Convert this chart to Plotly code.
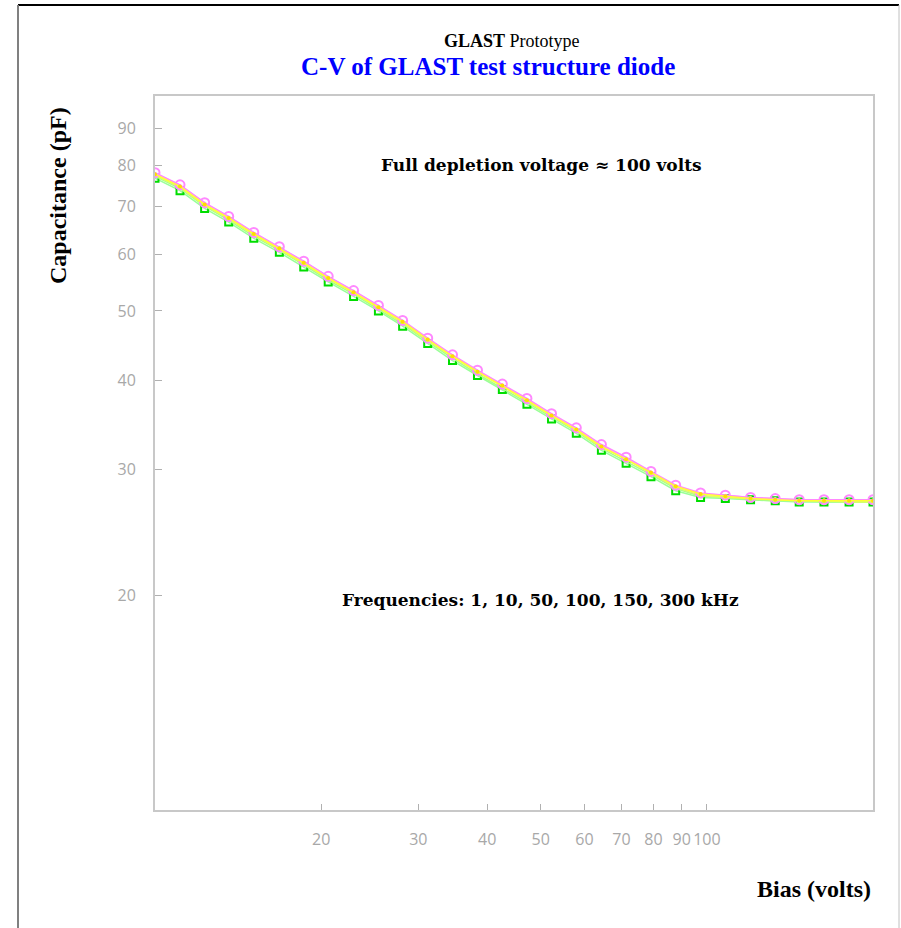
import plotly.graph_objects as go

# Bias voltages (volts)
bias = [10.0, 11.1, 12.3, 13.6, 15.1, 16.8, 18.6, 20.6, 22.9, 25.4,
        28.1, 31.2, 34.6, 38.4, 42.6, 47.2, 52.3, 58.0, 64.4, 71.4,
        79.2, 87.8, 97.4, 108.0, 120.0, 133.0, 147.0, 163.0, 181.0, 200.0]

# Capacitance (pF) for each test frequency
cap_1k = [78.1, 75.1, 70.9, 67.8, 64.4, 61.5, 58.7, 55.9, 53.4, 50.9,
          48.5, 45.8, 43.4, 41.3, 39.5, 37.7, 35.9, 34.3, 32.5, 31.2,
          29.8, 28.5, 27.8, 27.6, 27.4, 27.3, 27.2, 27.2, 27.2, 27.2]
cap_10k = [77.9, 75.0, 70.8, 67.7, 64.3, 61.4, 58.6, 55.8, 53.3, 50.8,
           48.4, 45.7, 43.3, 41.2, 39.4, 37.6, 35.8, 34.2, 32.4, 31.1,
           29.7, 28.4, 27.7, 27.6, 27.4, 27.3, 27.2, 27.2, 27.2, 27.2]
cap_50k = [77.7, 74.7, 70.5, 67.5, 64.1, 61.2, 58.4, 55.6, 53.1, 50.6,
           48.3, 45.6, 43.2, 41.1, 39.3, 37.5, 35.7, 34.1, 32.3, 31.0,
           29.7, 28.4, 27.7, 27.5, 27.3, 27.2, 27.1, 27.1, 27.1, 27.1]
cap_100k = [77.5, 74.5, 70.3, 67.3, 63.9, 61.0, 58.2, 55.5, 53.0, 50.5,
            48.1, 45.4, 43.1, 41.0, 39.2, 37.4, 35.6, 34.0, 32.2, 31.0,
            29.6, 28.3, 27.6, 27.4, 27.3, 27.2, 27.1, 27.1, 27.0, 27.0]
cap_150k = [77.2, 74.2, 70.1, 67.0, 63.6, 60.8, 58.0, 55.2, 52.8, 50.3,
            47.9, 45.3, 42.9, 40.8, 39.0, 37.2, 35.5, 33.9, 32.1, 30.8,
            29.5, 28.2, 27.5, 27.4, 27.2, 27.1, 27.1, 27.0, 27.0, 27.0]
cap_300k = [76.7, 73.7, 69.6, 66.6, 63.2, 60.4, 57.6, 54.9, 52.4, 50.0,
            47.6, 45.0, 42.6, 40.6, 38.8, 37.0, 35.3, 33.7, 31.9, 30.6,
            29.3, 28.0, 27.4, 27.3, 27.2, 27.1, 27.0, 27.0, 27.0, 27.0]

y_ticks = [20, 30, 40, 50, 60, 70, 80, 90]
x_ticks = [20, 30, 40, 50, 60, 70, 80, 90, 100]

fig = go.Figure()

series = [
    (cap_300k, "#99ff99", dict(symbol="square-open", size=7, color="#00dd00", line=dict(width=2))),
    (cap_150k, "#aaff88", dict(symbol="circle", size=3, color="#aaff88")),
    (cap_100k, "#ddff66", dict(symbol="circle", size=3, color="#ddff66")),
    (cap_10k, "#ffaaff", dict(symbol="circle", size=3, color="#ffaaff")),
    (cap_1k, "#ff88ff", dict(symbol="circle-open", size=9, color="#ff88ff", line=dict(width=2))),
    (cap_50k, "#ffff33", dict(symbol="circle", size=4, color="#ffdd00")),
]
names = ["300 kHz", "150 kHz", "100 kHz", "10 kHz", "1 kHz", "50 kHz"]
for (vals, lcol, mk), nm in zip(series, names):
    fig.add_trace(go.Scatter(x=bias, y=vals, mode="lines+markers", name=nm,
                             line=dict(color=lcol, width=1.5), marker=mk,
                             showlegend=False))

tickfont = dict(family="Open Sans, DejaVu Sans, sans-serif", size=16, color="#a8a8a8")
fig.update_xaxes(type="log", range=[1, 2.30103], tickvals=x_ticks,
                 ticktext=[str(v) for v in x_ticks], tickangle=0,
                 ticks="inside", ticklen=6, tickcolor="#b0b0b0", tickwidth=1,
                 showline=True, linecolor="#c8c8c8", linewidth=2, mirror=True,
                 showgrid=False, zeroline=False, tickfont=tickfont,
                 ticklabelstandoff=14)
fig.update_yaxes(type="log", range=[1, 2], tickvals=y_ticks,
                 ticktext=[str(v) for v in y_ticks],
                 ticks="inside", ticklen=7, tickcolor="#b0b0b0", tickwidth=1,
                 showline=True, linecolor="#c8c8c8", linewidth=2, mirror=True,
                 showgrid=False, zeroline=False, tickfont=tickfont,
                 ticklabelstandoff=14)

W, H = 901, 928
L, R, T, B = 155, 873, 96, 810
pw, ph = R - L, B - T

def px(x):
    return (x - L) / pw

def py(y):
    return (B - y) / ph

serif = "Liberation Serif, Times New Roman, serif"
serif2 = "DejaVu Serif, serif"
ann = [
    dict(text="<b>GLAST</b> Prototype", x=px(512), y=py(41), font=dict(family=serif, size=18, color="black")),
    dict(text="<b>C-V of GLAST test structure diode</b>", x=px(488), y=py(67), font=dict(family=serif, size=25, color="#0000ff")),
    dict(text="<b>Full depletion voltage \u2248 100 volts</b>", x=px(541), y=py(165), font=dict(family=serif2, size=17, color="black")),
    dict(text="<b>Frequencies: 1, 10, 50, 100, 150, 300 kHz</b>", x=px(540), y=py(600), font=dict(family=serif2, size=17, color="black")),
    dict(text="<b>Bias (volts)</b>", x=px(873), y=py(889), xanchor="right", font=dict(family=serif, size=24, color="black")),
    dict(text="<b>Capacitance (pF)</b>", x=px(58), y=py(196), textangle=-90, font=dict(family=serif, size=24, color="black")),
]
annotations = []
for a in ann:
    d = dict(xref="paper", yref="paper", showarrow=False, xanchor=a.get("xanchor", "center"), yanchor="middle")
    d.update(a)
    annotations.append(d)

shapes = [
    # longer tick at 100
    dict(type="line", xref="x", yref="paper", x0=2, x1=2, y0=0, y1=14 / ph, line=dict(color="#b0b0b0", width=1)),
    # outer frame
    dict(type="line", xref="paper", yref="paper", x0=px(18), x1=px(899), y0=py(5), y1=py(5), line=dict(color="black", width=2)),
    dict(type="line", xref="paper", yref="paper", x0=px(18), x1=px(18), y0=py(5), y1=py(928), line=dict(color="#808080", width=2)),
    dict(type="line", xref="paper", yref="paper", x0=px(899), x1=px(899), y0=py(5), y1=py(928), line=dict(color="#c0c0c0", width=1)),
]

fig.update_layout(width=W, height=H, margin=dict(l=L, r=W - R, t=T, b=H - B),
                  paper_bgcolor="white", plot_bgcolor="white",
                  annotations=annotations, shapes=shapes, showlegend=False)

fig.write_html("out.html")
